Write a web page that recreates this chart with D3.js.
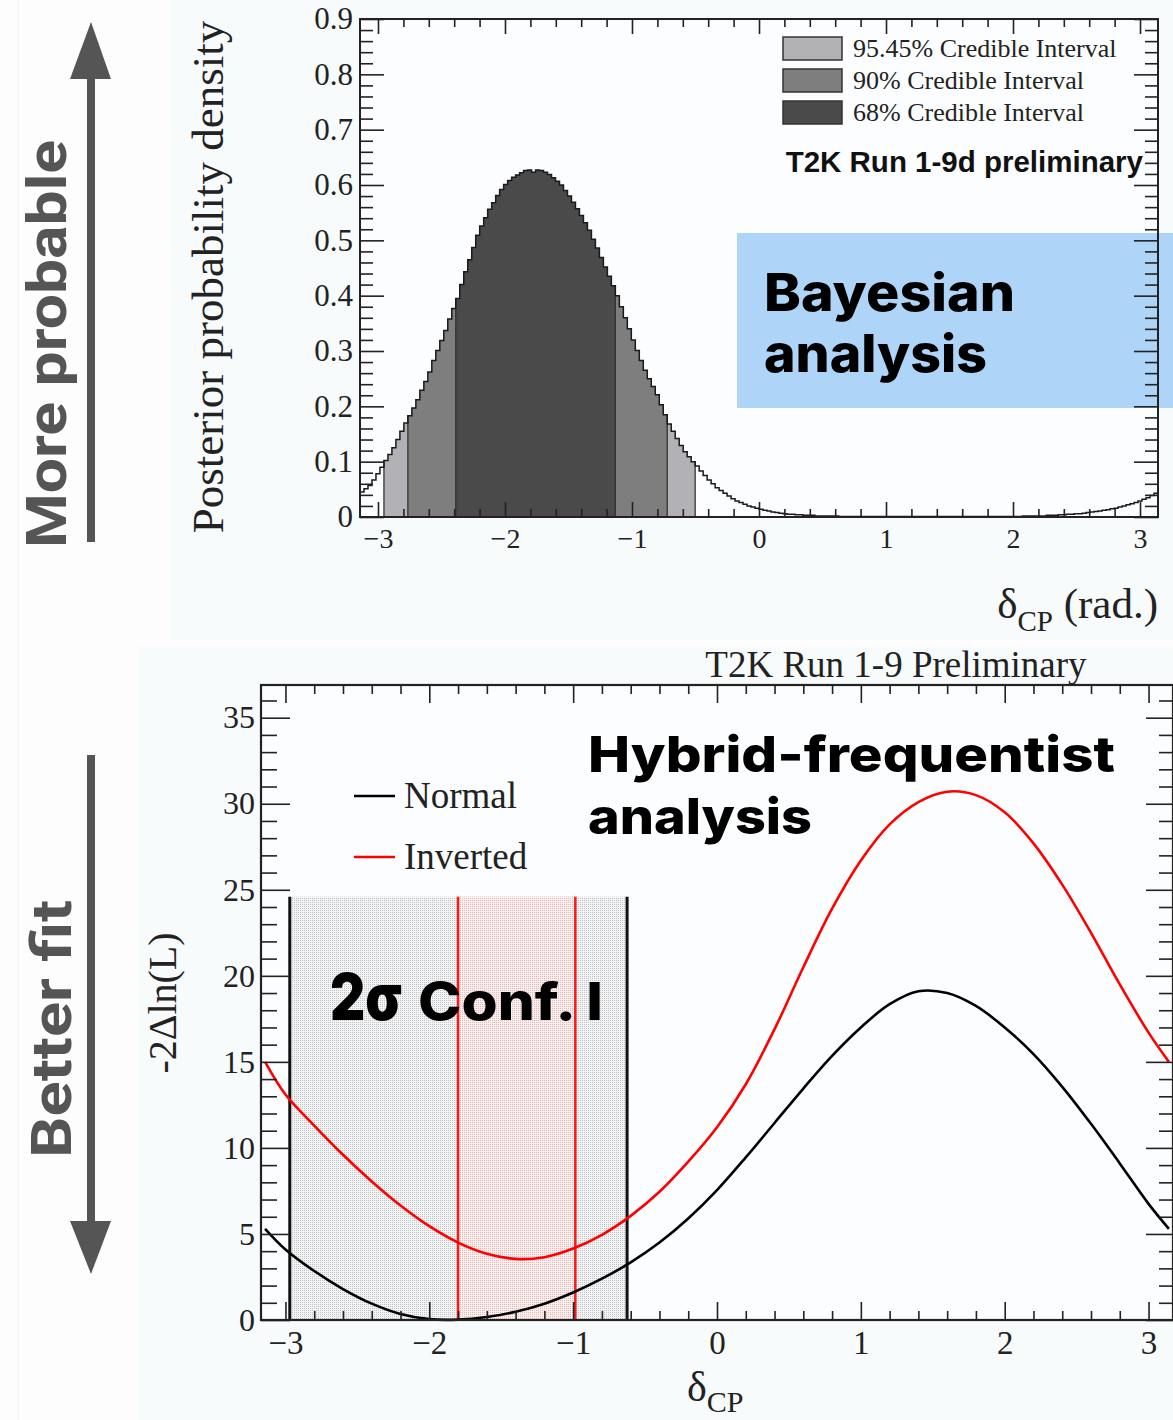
<!DOCTYPE html>
<html>
<head>
<meta charset="utf-8">
<script src="https://cdn.jsdelivr.net/npm/d3@7"></script>
<style>
  html, body { margin: 0; padding: 0; background: #fdfdfd; }
  svg { display: block; }
</style>
</head>
<body>
<svg id="chart" width="1173" height="1420"></svg>
<script>
// ---- data ----

// posterior probability density, 200 bins over [-pi, pi]
const densityBins = [
  0.045,0.051,0.057,0.067,0.078,0.090,0.102,0.113,0.125,0.140,
  0.155,0.170,0.183,0.197,0.212,0.229,0.245,0.262,0.283,0.301,
  0.319,0.337,0.358,0.377,0.395,0.420,0.443,0.465,0.487,0.509,
  0.526,0.541,0.556,0.568,0.581,0.592,0.601,0.608,0.614,0.618,
  0.622,0.626,0.627,0.623,0.627,0.626,0.623,0.619,0.613,0.607,
  0.600,0.590,0.580,0.569,0.557,0.545,0.532,0.518,0.502,0.486,
  0.469,0.452,0.435,0.418,0.400,0.380,0.360,0.340,0.320,0.301,
  0.283,0.265,0.250,0.236,0.221,0.203,0.185,0.168,0.155,0.142,
  0.129,0.118,0.109,0.100,0.092,0.083,0.075,0.067,0.060,0.053,
  0.048,0.043,0.038,0.033,0.029,0.026,0.023,0.020,0.018,0.016,
  0.014,0.012,0.011,0.009,0.008,0.007,0.006,0.005,0.005,0.004,
  0.004,0.003,0.003,0.003,0.002,0.002,0.002,0.002,0.002,0.002,
  0.001,0.001,0.001,0.001,0.001,0.001,0.001,0.001,0.001,0.001,
  0.001,0.001,0.001,0.001,0.001,0.001,0.001,0.001,0.001,0.001,
  0.001,0.001,0.001,0.001,0.001,0.001,0.001,0.001,0.001,0.001,
  0.001,0.001,0.001,0.001,0.001,0.001,0.001,0.001,0.001,0.001,
  0.001,0.001,0.001,0.001,0.001,0.001,0.002,0.002,0.002,0.002,
  0.002,0.002,0.003,0.003,0.003,0.004,0.004,0.005,0.005,0.006,
  0.006,0.007,0.008,0.009,0.010,0.011,0.012,0.013,0.015,0.016,
  0.018,0.020,0.022,0.024,0.026,0.029,0.032,0.035,0.039,0.043
];

// credible intervals (bin edges in rad)
const intervalNames = ['95.45% Credible Interval', '90% Credible Interval', '68% Credible Interval'];
const intervalLo = [-2.953, -2.765, -2.388];
const intervalHi = [-0.503, -0.723, -1.131];

// -2 delta ln L profiles
const deltaGrid = [-3.1416, -3.0, -2.8, -2.6, -2.4, -2.2, -2.0, -1.8, -1.6, -1.4, -1.2, -1.0,
  -0.8, -0.6, -0.4, -0.2, 0.0, 0.2, 0.4, 0.6, 0.8, 1.0, 1.2, 1.4, 1.6, 1.8, 2.0, 2.2,
  2.4, 2.6, 2.8, 3.0, 3.1416];
const normalChi2 = [5.3, 4.1, 2.85, 1.8, 0.95, 0.35, 0.05, 0.02, 0.17, 0.48, 0.95, 1.6,
  2.4, 3.35, 4.5, 5.9, 7.55, 9.45, 11.45, 13.45, 15.35, 17.0, 18.35, 19.1, 19.0, 18.25, 17.0, 15.45,
  13.55, 11.4, 9.1, 6.75, 5.3];
const invertedChi2 = [15.0, 13.1, 11.3, 9.6, 8.05, 6.65, 5.45, 4.5, 3.85, 3.55, 3.65, 4.15,
  4.95, 6.05, 7.45, 9.2, 11.2, 13.7, 16.9, 20.5, 23.9, 26.7, 28.8, 30.1, 30.7, 30.5, 29.5, 27.7,
  25.3, 22.5, 19.5, 16.7, 15.0];

const seriesNames = ['Normal', 'Inverted'];
const normalCI = [-2.97, -0.625];
const invertedCI = [-1.80, -0.985];
const ciBandTop = 24.6;

// tick labels
const topXTicks = [-3, -2, -1, 0, 1, 2, 3];
const topYTicks = [0, 0.1, 0.2, 0.3, 0.4, 0.5, 0.6, 0.7, 0.8, 0.9];
const botXTicks = [-3, -2, -1, 0, 1, 2, 3];
const botYTicks = [0, 5, 10, 15, 20, 25, 30, 35];

// ---- styles ----
const serif = "'Liberation Serif', 'Times New Roman', serif";
const display = "Inter, 'Open Sans', sans-serif";
const intervalColors = ['#b2b2b6', '#7e7e7e', '#4a4a4a'];

const svg = d3.select('#chart');

// backgrounds
svg.append('rect').attr('width', 1173).attr('height', 1420).attr('fill', '#fdfdfd');
svg.append('line').attr('x1', 18).attr('x2', 18).attr('y1', 0).attr('y2', 1420)
  .attr('stroke', '#efefef').attr('stroke-width', 1);
svg.append('rect').attr('x', 170).attr('y', 0).attr('width', 1003).attr('height', 640).attr('fill', '#f8fbfc');
svg.append('rect').attr('x', 137).attr('y', 647).attr('width', 1036).attr('height', 773).attr('fill', '#f8fbfc');

function drawAxis(g, axisFn, scale, values, len, withLabels, fmt, pad) {
  const ax = axisFn(scale).tickValues(values).tickSizeInner(-len).tickSizeOuter(0)
    .tickPadding(pad || 6).tickFormat(withLabels ? fmt : '');
  g.call(ax);
  g.select('.domain').remove();
  g.selectAll('.tick line').attr('stroke', '#222').attr('stroke-width', 1.6);
  g.attr('font-family', serif).attr('fill', '#222');
  g.selectAll('.tick text').attr('fill', '#222');
}

// ================= TOP: Bayesian posterior =================
const xTop = d3.scaleLinear().domain([-Math.PI, Math.PI]).range([360, 1158]);
const yTop = d3.scaleLinear().domain([0, 0.9]).range([517, 19]);
const binW = 2 * Math.PI / densityBins.length;
const bins = densityBins.map((v, i) => ({ x0: -Math.PI + i * binW, x1: -Math.PI + (i + 1) * binW, v: v }));

svg.append('rect').attr('x', 360).attr('y', 19).attr('width', 798).attr('height', 498).attr('fill', '#fcfdfe');

// blue label box
svg.append('rect').attr('x', 737).attr('y', 233).attr('width', 436).attr('height', 175).attr('fill', '#aed4f7');

function stepPoints(list) {
  const pts = [];
  list.forEach(b => { pts.push([b.x0, b.v]); pts.push([b.x1, b.v]); });
  return pts;
}
const stepArea = d3.area().x(d => xTop(d[0])).y0(yTop(0)).y1(d => yTop(d[1]));
const stepLine = d3.line().x(d => xTop(d[0])).y(d => yTop(d[1]));

intervalNames.forEach((name, k) => {
  const inside = bins.filter(b => (b.x0 + b.x1) / 2 >= intervalLo[k] && (b.x0 + b.x1) / 2 <= intervalHi[k]);
  svg.append('path').attr('d', stepArea(stepPoints(inside))).attr('fill', intervalColors[k]);
  const first = inside[0], last = inside[inside.length - 1];
  [[first.x0, first.v], [last.x1, last.v]].forEach(p => {
    svg.append('line').attr('x1', xTop(p[0])).attr('x2', xTop(p[0]))
      .attr('y1', yTop(0)).attr('y2', yTop(p[1]))
      .attr('stroke', '#333').attr('stroke-width', 1.3);
  });
});

svg.append('path').attr('d', stepLine(stepPoints(bins)))
  .attr('fill', 'none').attr('stroke', '#1a1a1a').attr('stroke-width', 1.5);

// frame + axes
svg.append('rect').attr('x', 360).attr('y', 19).attr('width', 798).attr('height', 498)
  .attr('fill', 'none').attr('stroke', '#222').attr('stroke-width', 2);

const topXMinor = d3.range(-30, 32, 2).map(d => d / 10).filter(d => !topXTicks.includes(d));
const topYMinor = d3.range(0, 46).map(d => d * 0.02).filter((d, i) => i % 5 !== 0);
const fmtTopY = d => d === 0 ? '0' : d3.format('.1f')(d);

let g = svg.append('g').attr('transform', 'translate(0,517)');
drawAxis(g, d3.axisBottom, xTop, topXTicks, 15, true, d3.format('d'), 11);
g.attr('font-size', 28);
g = svg.append('g').attr('transform', 'translate(0,517)');
drawAxis(g, d3.axisBottom, xTop, topXMinor, 8, false);
g = svg.append('g').attr('transform', 'translate(0,19)');
drawAxis(g, d3.axisTop, xTop, topXTicks, 15, false);
g = svg.append('g').attr('transform', 'translate(0,19)');
drawAxis(g, d3.axisTop, xTop, topXMinor, 8, false);
g = svg.append('g').attr('transform', 'translate(360,0)');
drawAxis(g, d3.axisLeft, yTop, topYTicks, 24, true, fmtTopY, 7);
g.attr('font-size', 31);
g = svg.append('g').attr('transform', 'translate(360,0)');
drawAxis(g, d3.axisLeft, yTop, topYMinor, 13, false);
g = svg.append('g').attr('transform', 'translate(1158,0)');
drawAxis(g, d3.axisRight, yTop, topYTicks, 24, false);
g = svg.append('g').attr('transform', 'translate(1158,0)');
drawAxis(g, d3.axisRight, yTop, topYMinor, 13, false);

// legend
intervalNames.forEach((name, k) => {
  const y = 37 + k * 32;
  svg.append('rect').attr('x', 783).attr('y', y).attr('width', 59).attr('height', 23)
    .attr('fill', intervalColors[k]).attr('stroke', '#333').attr('stroke-width', 1.5);
  svg.append('text').attr('x', 853).attr('y', y + 20).text(name)
    .attr('font-family', serif).attr('font-size', 26).attr('fill', '#222');
});
svg.append('text').attr('x', 1143).attr('y', 172).attr('text-anchor', 'end')
  .text('T2K Run 1-9d preliminary')
  .attr('font-family', "'Liberation Sans', Arial, sans-serif").attr('font-weight', 700)
  .attr('font-size', 29.5).attr('fill', '#111');

// axis titles
svg.append('text').attr('transform', 'translate(223,277) rotate(-90)').attr('text-anchor', 'middle')
  .text('Posterior probability density')
  .attr('font-family', serif).attr('font-size', 45).attr('fill', '#222');
let t = svg.append('text').attr('x', 1158).attr('y', 618).attr('text-anchor', 'end')
  .attr('font-family', serif).attr('fill', '#222');
t.append('tspan').attr('font-size', 43).text('δ');
t.append('tspan').attr('font-size', 29).attr('dy', 13).text('CP');
t.append('tspan').attr('font-size', 43).attr('dy', -13).text(' (rad.)');

// annotation
svg.append('text').attr('x', 764).attr('y', 311).text('Bayesian')
  .attr('font-family', display).attr('font-weight', 800).attr('font-size', 52)
  .attr('textLength', 251).attr('lengthAdjust', 'spacingAndGlyphs').attr('fill', '#000');
svg.append('text').attr('x', 764).attr('y', 372).text('analysis')
  .attr('font-family', display).attr('font-weight', 800).attr('font-size', 52)
  .attr('textLength', 223).attr('lengthAdjust', 'spacingAndGlyphs').attr('fill', '#000');

// ================= BOTTOM: frequentist profile =================
const xBot = d3.scaleLinear().domain([-3.17, 3.17]).range([261, 1173]);
const yBot = d3.scaleLinear().domain([0, 36.9]).range([1320, 685]);

svg.append('rect').attr('x', 261).attr('y', 685).attr('width', 912).attr('height', 635).attr('fill', '#fbfdfe');

const defs = svg.append('defs');
const pg = defs.append('pattern').attr('id', 'dotsGray').attr('width', 2).attr('height', 2)
  .attr('patternUnits', 'userSpaceOnUse');
pg.append('rect').attr('width', 2).attr('height', 2).attr('fill', '#f3f4f5');
pg.append('rect').attr('x', 0).attr('y', 0).attr('width', 1).attr('height', 1).attr('fill', '#c2c2c2');
const pr = defs.append('pattern').attr('id', 'dotsRed').attr('width', 2).attr('height', 2)
  .attr('patternUnits', 'userSpaceOnUse');
pr.append('rect').attr('width', 2).attr('height', 2).attr('fill', '#f8efef');
pr.append('rect').attr('x', 0).attr('y', 0).attr('width', 1).attr('height', 1).attr('fill', '#e8b4b4');

const bandY = yBot(ciBandTop), bandH = yBot(0) - yBot(ciBandTop);
svg.append('rect').attr('x', xBot(normalCI[0])).attr('y', bandY)
  .attr('width', xBot(normalCI[1]) - xBot(normalCI[0])).attr('height', bandH)
  .attr('fill', 'url(#dotsGray)');
svg.append('rect').attr('x', xBot(invertedCI[0])).attr('y', bandY)
  .attr('width', xBot(invertedCI[1]) - xBot(invertedCI[0])).attr('height', bandH)
  .attr('fill', 'url(#dotsRed)');

normalCI.forEach(v => {
  svg.append('line').attr('x1', xBot(v)).attr('x2', xBot(v)).attr('y1', yBot(0)).attr('y2', bandY)
    .attr('stroke', '#111').attr('stroke-width', 3);
});
invertedCI.forEach(v => {
  svg.append('line').attr('x1', xBot(v)).attr('x2', xBot(v)).attr('y1', yBot(0)).attr('y2', bandY)
    .attr('stroke', '#ff1a1a').attr('stroke-width', 2.5);
});

const profLine = d3.line().x(d => xBot(d[0])).y(d => yBot(d[1])).curve(d3.curveCatmullRom.alpha(0.5));
svg.append('path').attr('d', profLine(deltaGrid.map((x, i) => [x, normalChi2[i]])))
  .attr('fill', 'none').attr('stroke', '#000').attr('stroke-width', 2.6);
svg.append('path').attr('d', profLine(deltaGrid.map((x, i) => [x, invertedChi2[i]])))
  .attr('fill', 'none').attr('stroke', '#ff0000').attr('stroke-width', 2.6);

svg.append('rect').attr('x', 261).attr('y', 685).attr('width', 912).attr('height', 635)
  .attr('fill', 'none').attr('stroke', '#222').attr('stroke-width', 2.2);

const botXMinor = d3.range(-30, 32, 2).map(d => d / 10).filter(d => !botXTicks.includes(d));
const botYMinor = d3.range(0, 37).filter(d => d % 5 !== 0);

g = svg.append('g').attr('transform', 'translate(0,1320)');
drawAxis(g, d3.axisBottom, xBot, botXTicks, 18, true, d3.format('d'), 11);
g.attr('font-size', 33);
g = svg.append('g').attr('transform', 'translate(0,1320)');
drawAxis(g, d3.axisBottom, xBot, botXMinor, 9, false);
g = svg.append('g').attr('transform', 'translate(0,685)');
drawAxis(g, d3.axisTop, xBot, botXTicks, 18, false);
g = svg.append('g').attr('transform', 'translate(0,685)');
drawAxis(g, d3.axisTop, xBot, botXMinor, 9, false);
g = svg.append('g').attr('transform', 'translate(261,0)');
drawAxis(g, d3.axisLeft, yBot, botYTicks, 29, true, d3.format('d'), 6);
g.attr('font-size', 32);
g = svg.append('g').attr('transform', 'translate(261,0)');
drawAxis(g, d3.axisLeft, yBot, botYMinor, 16, false);
g = svg.append('g').attr('transform', 'translate(1173,0)');
drawAxis(g, d3.axisRight, yBot, botYTicks, 27, false);
g = svg.append('g').attr('transform', 'translate(1173,0)');
drawAxis(g, d3.axisRight, yBot, botYMinor, 14, false);

// legend
const legendColors = ['#000', '#ff0000'];
seriesNames.forEach((name, k) => {
  const y = 796 + k * 61;
  svg.append('line').attr('x1', 354).attr('x2', 395).attr('y1', y).attr('y2', y)
    .attr('stroke', legendColors[k]).attr('stroke-width', 2.6);
  svg.append('text').attr('x', 404).attr('y', y + 12).text(name)
    .attr('font-family', serif).attr('font-size', 37).attr('fill', '#222');
});

svg.append('text').attr('x', 896).attr('y', 677).attr('text-anchor', 'middle')
  .text('T2K Run 1-9 Preliminary')
  .attr('font-family', serif).attr('font-size', 37).attr('fill', '#222');

svg.append('text').attr('transform', 'translate(176,1003) rotate(-90)').attr('text-anchor', 'middle')
  .text('-2Δln(L)').attr('font-family', serif).attr('font-size', 40).attr('fill', '#222');
t = svg.append('text').attr('x', 687).attr('y', 1401).attr('font-family', serif).attr('fill', '#222');
t.append('tspan').attr('font-size', 42).text('δ');
t.append('tspan').attr('font-size', 30).attr('dy', 11).text('CP');

svg.append('text').attr('x', 588).attr('y', 772).text('Hybrid-frequentist')
  .attr('font-family', display).attr('font-weight', 800).attr('font-size', 50)
  .attr('textLength', 527).attr('lengthAdjust', 'spacingAndGlyphs').attr('fill', '#000');
svg.append('text').attr('x', 588).attr('y', 834).text('analysis')
  .attr('font-family', display).attr('font-weight', 800).attr('font-size', 50)
  .attr('textLength', 224).attr('lengthAdjust', 'spacingAndGlyphs').attr('fill', '#000');

svg.append('text').attr('x', 330).attr('y', 1020).text('2σ')
  .attr('font-family', display).attr('font-weight', 900).attr('font-size', 64)
  .attr('textLength', 72).attr('lengthAdjust', 'spacingAndGlyphs').attr('fill', '#000');
svg.append('text').attr('x', 418).attr('y', 1020).text('Conf. I')
  .attr('font-family', display).attr('font-weight', 800).attr('font-size', 52)
  .attr('textLength', 185).attr('lengthAdjust', 'spacingAndGlyphs').attr('fill', '#000');

// ================= side arrows =================
const arrowCol = '#555';
svg.append('line').attr('x1', 91).attr('x2', 91).attr('y1', 79).attr('y2', 542)
  .attr('stroke', arrowCol).attr('stroke-width', 8);
svg.append('path').attr('d', 'M70,79 L111,79 L91,22 Z').attr('fill', arrowCol);
svg.append('line').attr('x1', 91).attr('x2', 91).attr('y1', 755).attr('y2', 1222)
  .attr('stroke', arrowCol).attr('stroke-width', 8);
svg.append('path').attr('d', 'M70,1221 L111,1221 L91,1274 Z').attr('fill', arrowCol);

svg.append('text').attr('transform', 'translate(66,344) rotate(-90)').attr('text-anchor', 'middle')
  .text('More probable').attr('font-family', "Roboto, 'Open Sans', sans-serif").attr('font-weight', 700)
  .attr('font-size', 56).attr('textLength', 408).attr('lengthAdjust', 'spacingAndGlyphs').attr('fill', arrowCol);
svg.append('text').attr('transform', 'translate(71,1029) rotate(-90)').attr('text-anchor', 'middle')
  .text('Better fit').attr('font-family', "Roboto, 'Open Sans', sans-serif").attr('font-weight', 700)
  .attr('font-size', 56).attr('textLength', 258).attr('lengthAdjust', 'spacingAndGlyphs').attr('fill', arrowCol);
</script>
</body>
</html>
